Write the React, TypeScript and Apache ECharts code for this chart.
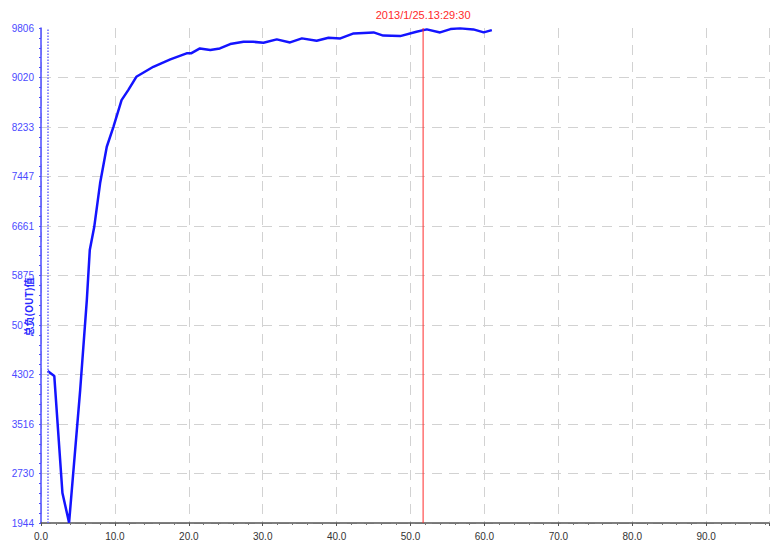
import React, { useEffect, useRef } from "react";
import * as echarts from "echarts";

// elapsed time (x) and total OUT value (y)
const times = [0.9, 1.8, 2.9, 3.8, 5.3, 6.2, 6.6, 7.2, 8.0, 8.9, 9.8, 10.9, 11.8, 12.9, 15.2, 17.5, 19.7, 20.3, 21.5, 22.9, 24.2, 25.6, 27.4, 28.7, 30.1, 31.9, 33.7, 35.3, 37.3, 38.9, 40.5, 42.3, 45.0, 46.3, 48.6, 50.8, 52.2, 54.0, 55.4, 56.7, 58.5, 59.9, 61.0];
const outValues = [4358, 4278, 2420, 1950, 4056, 5485, 6279, 6644, 7343, 7920, 8237, 8661, 8820, 9031, 9190, 9307, 9403, 9403, 9482, 9455, 9482, 9551, 9587, 9587, 9571, 9625, 9577, 9641, 9603, 9650, 9641, 9720, 9736, 9685, 9677, 9746, 9784, 9736, 9789, 9800, 9784, 9736, 9773];

const yTickLabels = ["1944", "2730", "3516", "4302", "5089", "5875", "6661", "7447", "8233", "9020", "9806"];
const yMin = 1944;
const yMax = 9806;
const xMax = 98.5;
const markerTime = 51.7;
const markerLabel = "2013/1/25.13:29:30";
const yTitle = "总负(OUT)值";

const minorPerMajor = 5;
const yCats = Array.from({ length: (yTickLabels.length - 1) * minorPerMajor + 1 }, (_, i) => String(i));

export default function App() {
  const ref = useRef<HTMLDivElement>(null);
  useEffect(() => {
    const chart = echarts.init(ref.current!, null, { renderer: "svg" });
    const grey = "#d2d2d2";
    const red = "#ff2a2a";
    chart.setOption({
      animation: false,
      backgroundColor: "#ffffff",
      grid: { left: 41, right: 2, top: 28, bottom: 22 },
      xAxis: {
        type: "value",
        min: 0,
        max: xMax,
        interval: 10,
        axisLine: { lineStyle: { color: "#555", width: 1.5 } },
        axisTick: { show: true, length: 3, lineStyle: { color: "#555" } },
        minorTick: { show: true, splitNumber: 5, length: 2, lineStyle: { color: "#777" } },
        axisLabel: {
          formatter: (v: number) => v.toFixed(1),
          color: "#333",
          fontSize: 10,
          fontFamily: "Liberation Sans",
          margin: 8,
          showMaxLabel: false,
        },
        splitLine: { show: true, lineStyle: { color: grey, type: [10, 7] } },
      },
      yAxis: [
        { type: "value", min: yMin, max: yMax, show: false },
        {
          type: "category",
          data: yCats,
          boundaryGap: false,
          position: "left",
          axisLine: { show: true, lineStyle: { color: "#4a4aff", width: 1.5 } },
          axisTick: { show: true, interval: 0, length: 2, lineStyle: { color: "#4a4aff" } },
          axisLabel: {
            interval: minorPerMajor - 1,
            formatter: (v: string) => {
              const i = Number(v);
              return i % minorPerMajor === 0 ? yTickLabels[i / minorPerMajor] : "";
            },
            color: "#4a4aff",
            fontSize: 10,
            fontFamily: "Liberation Sans",
            margin: 7,
            padding: [0, 0, 6, 0],
          },
          splitLine: {
            show: true,
            interval: (i: number) => i % minorPerMajor === 0 && i < yCats.length - 1,
            lineStyle: { color: grey, type: [10, 7] },
          },
        },
      ],
      series: [
        {
          type: "line",
          yAxisIndex: 0,
          data: times.map((t, i) => [t, outValues[i]]),
          showSymbol: false,
          lineStyle: { color: "#1414ff", width: 2.5 },
          itemStyle: { color: "#1414ff" },
          z: 3,
          markLine: {
            silent: true,
            symbol: "none",
            lineStyle: { color: "#6a6aff", width: 1.5, type: "dotted" },
            label: { show: false },
            data: [{ xAxis: times[0] }],
          },
        },
        {
          type: "line",
          yAxisIndex: 0,
          z: 4,
          silent: true,
          symbol: "circle",
          symbolSize: 0,
          showSymbol: true,
          lineStyle: { color: red, width: 1 },
          itemStyle: { color: red },
          data: [
            { value: [markerTime, yMin] },
            {
              value: [markerTime, yMax],
              label: {
                show: true,
                position: "top",
                distance: 8,
                formatter: markerLabel,
                color: red,
                fontSize: 11,
                fontFamily: "Liberation Sans",
              },
            },
          ],
        },
      ],
      graphic: [
        {
          type: "text",
          x: 28,
          y: 307,
          rotation: Math.PI / 2,
          z: 100,
          style: {
            text: yTitle,
            fill: "#2a2aff",
            font: 'bold 10px "Noto Sans CJK SC"',
            align: "center",
            verticalAlign: "middle",
            backgroundColor: "#ffffff",
          },
        },
      ],
    });
    return () => chart.dispose();
  }, []);
  return <div ref={ref} style={{ position: "absolute", left: 0, top: 0, width: 771, height: 545 }} />;
}
